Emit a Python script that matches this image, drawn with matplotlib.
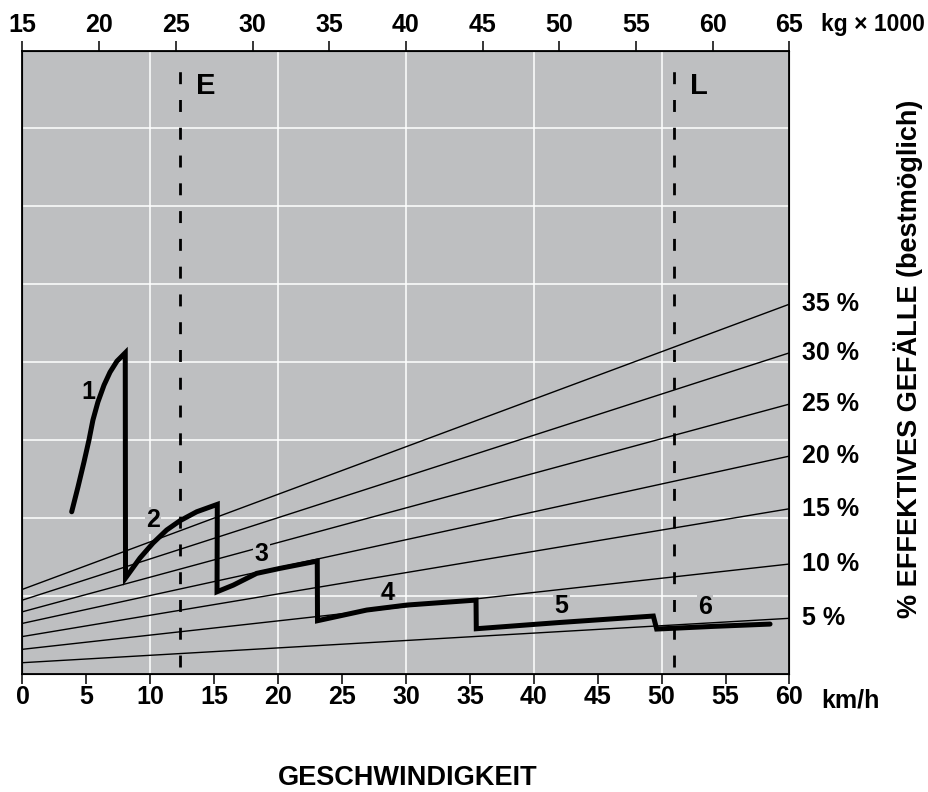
import matplotlib.pyplot as plt

plt.rcParams['lines.scale_dashes'] = False

FONT = ['Liberation Sans', 'DejaVu Sans']
BG = '#bebfc1'

# axes
speed_ticks = list(range(0, 61, 5))     # km/h, bottom
mass_ticks = list(range(15, 66, 5))     # kg x 1000, top

# lines of effective gradient (value at 0 km/h, value at 60 km/h)
grade_labels = ['5 %', '10 %', '15 %', '20 %', '25 %', '30 %', '35 %']
grade_left = [1.39, 3.11, 4.75, 6.44, 7.93, 9.43, 10.81]
grade_right = [7.09, 14.06, 21.16, 27.92, 34.6, 41.18, 47.43]

# gear curves
gear1_v = [3.85, 4.34, 4.81, 5.20, 5.51, 5.90, 6.38, 6.85, 7.39, 8.04]
gear1_f = [20.77, 23.94, 27.15, 29.97, 32.54, 34.86, 37.04, 38.70, 40.11, 41.18]
gear2_v = [8.06, 9.19, 10.21, 11.28, 12.32, 13.63, 15.24]
gear2_f = [12.26, 14.83, 16.75, 18.43, 19.62, 20.77, 21.72]
gear3_v = [15.22, 16.49, 18.32, 20.14, 23.06]
gear3_f = [10.50, 11.35, 12.86, 13.50, 14.44]
gear4_v = [23.08, 26.93, 30.06, 35.48]
gear4_f = [6.78, 8.15, 8.79, 9.43]
gear5_v = [35.50, 42.0, 49.35]
gear5_f = [5.75, 6.55, 7.38]
gear6_v = [49.61, 54.0, 58.48]
gear6_f = [5.71, 6.05, 6.35]

gear_names = ['1', '2', '3', '4', '5', '6']
gear_label_v = [5.12, 10.21, 18.71, 28.59, 42.18, 53.39]
gear_label_f = [36.17, 19.70, 15.34, 10.33, 8.70, 8.54]

# empty / loaded weight
marks = ['E', 'L']
mark_kg = [25.3, 57.5]

fig = plt.figure(figsize=(9.29, 7.92), dpi=100)
ax = fig.add_axes([0.0242, 0.1496, 0.8256, 0.7866])
ax.set_facecolor(BG)
ax.set_xlim(0, 60)
ax.set_ylim(0, 80)

for v in range(10, 60, 10):
    ax.axvline(v, color='white', lw=1.1, zorder=1)
for f in range(10, 80, 10):
    ax.axhline(f, color='white', lw=1.1, zorder=1)

for lab, a, b in zip(grade_labels, grade_left, grade_right):
    ax.plot([0, 60], [a, b], color='black', lw=1.0, zorder=2)
    ax.annotate(lab, xy=(60, b), xytext=(9, 0), textcoords='offset points',
                ha='left', va='center', fontsize=18, fontweight='bold',
                family=FONT, annotation_clip=False)

v_all = gear1_v + gear2_v + gear3_v + gear4_v + gear5_v + gear6_v
f_all = gear1_f + gear2_f + gear3_f + gear4_f + gear5_f + gear6_f
ax.plot(v_all, f_all, color='black', lw=3.6, zorder=4,
        solid_joinstyle='miter', solid_capstyle='round')

for name, v, f in zip(gear_names, gear_label_v, gear_label_f):
    ax.text(v, f, name, ha='center', va='center', fontsize=18,
            fontweight='bold', family=FONT, zorder=3,
            bbox=dict(facecolor=BG, edgecolor='none', pad=1))

ax.set_xticks(speed_ticks)
ax.set_yticks([])
ax.tick_params(axis='x', direction='out', length=7.5, width=1.1, pad=1,
               labelsize=18)
for t in ax.get_xticklabels():
    t.set_family(FONT)
    t.set_fontweight('bold')
for s in ax.spines.values():
    s.set_linewidth(1.3)

ax2 = ax.twiny()
ax2.set_xlim(15, 65)
ax2.set_xticks(mass_ticks)
ax2.tick_params(axis='x', direction='out', length=7.5, width=1.1, pad=2.5,
                labelsize=18)
for t in ax2.get_xticklabels():
    t.set_family(FONT)
    t.set_fontweight('bold')

for m, kg in zip(marks, mark_kg):
    ax2.axvline(kg, ymin=0.01, ymax=0.99, color='black', lw=2.0,
                dashes=(8.6, 11.4), zorder=5)
    ax2.text(kg + 1.0, 75.5 / 80, m, transform=ax2.get_xaxis_transform(),
             ha='left', va='center', fontsize=21, fontweight='bold',
             family=FONT)

fig.text(821 / 929, 1 - 31 / 792, 'kg × 1000', ha='left', va='baseline',
         fontsize=16.5, fontweight='bold', family=FONT)
fig.text(821 / 929, 1 - 707 / 792, 'km/h', ha='left', va='baseline',
         fontsize=18, fontweight='bold', family=FONT)
fig.text(408 / 929, 1 - 778 / 792, 'GESCHWINDIGKEIT', ha='center',
         va='center', fontsize=19.5, fontweight='bold', family=FONT)
fig.text(908 / 929, 1 - 359 / 792, '% EFFEKTIVES GEFÄLLE (bestmöglich)',
         rotation=90, ha='center', va='center', fontsize=19.5,
         fontweight='bold', family=FONT)

fig.savefig('out.png', dpi=100)
